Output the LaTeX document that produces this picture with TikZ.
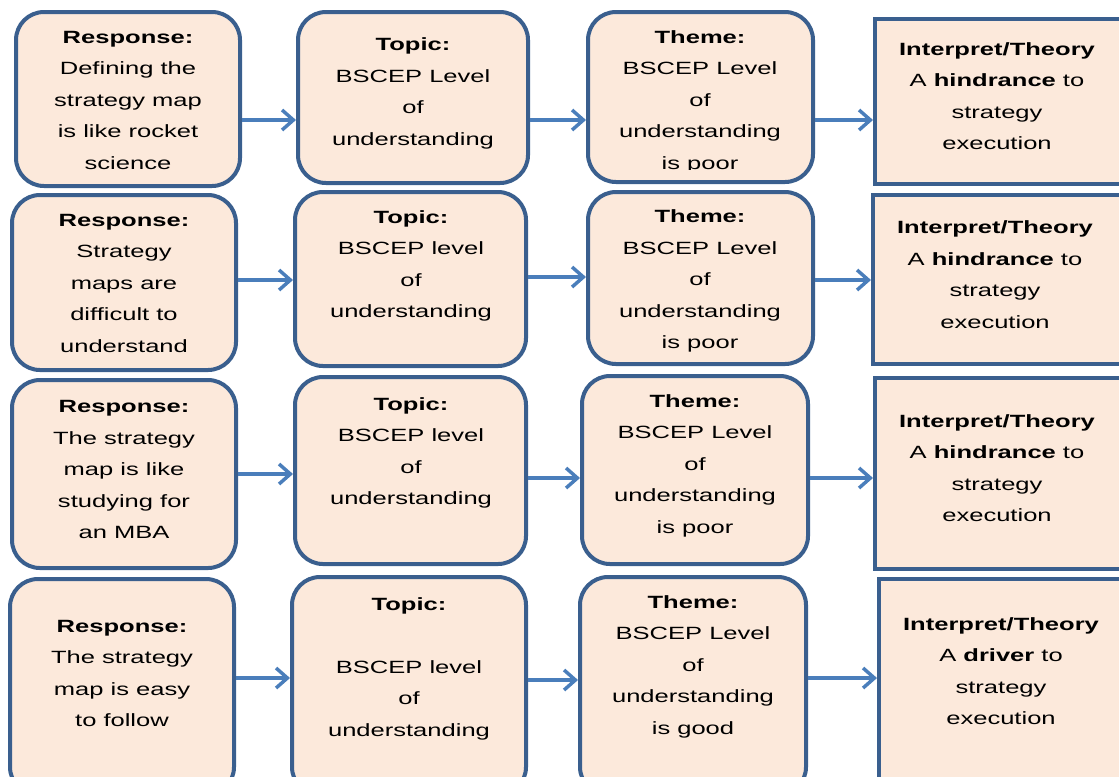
\documentclass[tikz,border=0pt]{standalone}
\usepackage{fontspec}
\setmainfont{Liberation Sans}[FakeStretch=1.44]
\usetikzlibrary{arrows.meta}
\definecolor{boxfill}{HTML}{FCE9DB}
\definecolor{boxline}{HTML}{3A5F8E}
\definecolor{arrowblue}{HTML}{4A7EBB}
% strut giving every text line the same height and depth
\newcommand\ls{\rule[-7.05pt]{0pt}{23.6pt}}
% box from its corners: style, name, x1, y1, x2, y2
\newcommand\boxat[6]{\node[#1, minimum width={(#5-#3)*0.75pt}, minimum height={(#6-#4)*0.75pt}] (#2) at ({(#3+#5)/2},{(#4+#6)/2}) {};}
\begin{document}
\begin{tikzpicture}[x=0.75pt, y=-0.75pt,
  roundbox/.style={draw=boxline, fill=boxfill, line width=3pt, rounded corners=21pt, inner sep=0pt},
  squarebox/.style={draw=boxline, fill=boxfill, line width=3pt, inner sep=0pt},
  txt/.style={align=center, inner sep=0pt, font=\fontsize{13.3}{23.6}\selectfont},
  link/.style={draw=arrowblue, line width=2.6pt, -{Straight Barb[length=8.5pt, width=15pt]}}]
\useasboundingbox (0,0) rectangle (1119,776);

% row 1
\boxat{roundbox}{r1}{16}{12}{240}{186}
\boxat{roundbox}{t1}{298}{12}{528}{183}
\boxat{roundbox}{h1}{588}{12}{813}{182}
\boxat{squarebox}{i1}{875}{19}{1124}{184}
\node[txt] (r1t) at (128,100) {\ls\textbf{Response:}\\\ls Defining the\\\ls strategy map\\\ls is like rocket\\\ls science};
\node[txt] (t1t) at (413,91.5) {\ls\textbf{Topic:}\\\ls BSCEP Level\\\ls of\\\ls understanding};
\begin{scope}
  \clip (580,0) rectangle (820,169);
  \node[txt] (h1t) at (700,100) {\ls\textbf{Theme:}\\\ls BSCEP Level\\\ls of\\\ls understanding\\\ls is poor};
\end{scope}
\node[txt] (i1t) at (997,96) {\ls\textbf{Interpret/Theory}\\\ls A \textbf{hindrance} to\\\ls strategy\\\ls execution};
\draw[link] (r1.east |- 0,120) -- (t1.west |- 0,120);
\draw[link] (t1.east |- 0,120) -- (h1.west |- 0,120);
\draw[link] (h1.east |- 0,120) -- (i1.west |- 0,120);

% row 2
\boxat{roundbox}{r2}{12}{195}{236}{370}
\boxat{roundbox}{t2}{295}{192}{526}{366}
\boxat{roundbox}{h2}{588}{192}{813}{364}
\boxat{squarebox}{i2}{873}{195}{1124}{364}
\node[txt] (r2t) at (124,283) {\ls\textbf{Response:}\\\ls Strategy\\\ls maps are\\\ls difficult to\\\ls understand};
\node[txt] (t2t) at (411,264) {\ls\textbf{Topic:}\\\ls BSCEP level\\\ls of\\\ls understanding};
\node[txt] (h2t) at (700,279.5) {\ls\textbf{Theme:}\\\ls BSCEP Level\\\ls of\\\ls understanding\\\ls is poor};
\node[txt] (i2t) at (995,274.5) {\ls\textbf{Interpret/Theory}\\\ls A \textbf{hindrance} to\\\ls strategy\\\ls execution};
\draw[link] (r2.east |- 0,280) -- (t2.west |- 0,280);
\draw[link] (t2.east |- 0,277) -- (h2.west |- 0,277);
\draw[link] (h2.east |- 0,280) -- (i2.west |- 0,280);

% row 3
\boxat{roundbox}{r3}{12}{380}{236}{568}
\boxat{roundbox}{t3}{295}{377}{526}{564}
\boxat{roundbox}{h3}{582}{376}{808}{564}
\boxat{squarebox}{i3}{875}{378}{1124}{569}
\node[txt] (r3t) at (124,469.5) {\ls\textbf{Response:}\\\ls The strategy\\\ls map is like\\\ls studying for\\\ls an MBA};
\node[txt] (t3t) at (411,451) {\ls\textbf{Topic:}\\\ls BSCEP level\\\ls of\\\ls understanding};
\node[txt] (h3t) at (695,464) {\ls\textbf{Theme:}\\\ls BSCEP Level\\\ls of\\\ls understanding\\\ls is poor};
\node[txt] (i3t) at (997,468) {\ls\textbf{Interpret/Theory}\\\ls A \textbf{hindrance} to\\\ls strategy\\\ls execution};
\draw[link] (r3.east |- 0,474) -- (t3.west |- 0,474);
\draw[link] (t3.east |- 0,478) -- (h3.west |- 0,478);
\draw[link] (h3.east |- 0,478) -- (i3.west |- 0,478);

% row 4
\boxat{roundbox}{r4}{10}{579}{234}{795}
\boxat{roundbox}{t4}{292}{577}{526}{795}
\boxat{roundbox}{h4}{580}{577}{806}{795}
\boxat{squarebox}{i4}{879}{579}{1124}{795}
\node[txt] (r4t) at (122,673) {\ls\textbf{Response:}\\\ls The strategy\\\ls map is easy\\\ls to follow};
\node[txt] (t4t) at (409,667) {\ls\textbf{Topic:}\\\ls\\\ls BSCEP level\\\ls of\\\ls understanding};
\node[txt] (h4t) at (693,665) {\ls\textbf{Theme:}\\\ls BSCEP Level\\\ls of\\\ls understanding\\\ls is good};
\node[txt] (i4t) at (1001,671) {\ls\textbf{Interpret/Theory}\\\ls A \textbf{driver} to\\\ls strategy\\\ls execution};
\draw[link] (r4.east |- 0,678) -- (t4.west |- 0,678);
\draw[link] (t4.east |- 0,680) -- (h4.west |- 0,680);
\draw[link] (h4.east |- 0,678) -- (i4.west |- 0,678);
\end{tikzpicture}
\end{document}
